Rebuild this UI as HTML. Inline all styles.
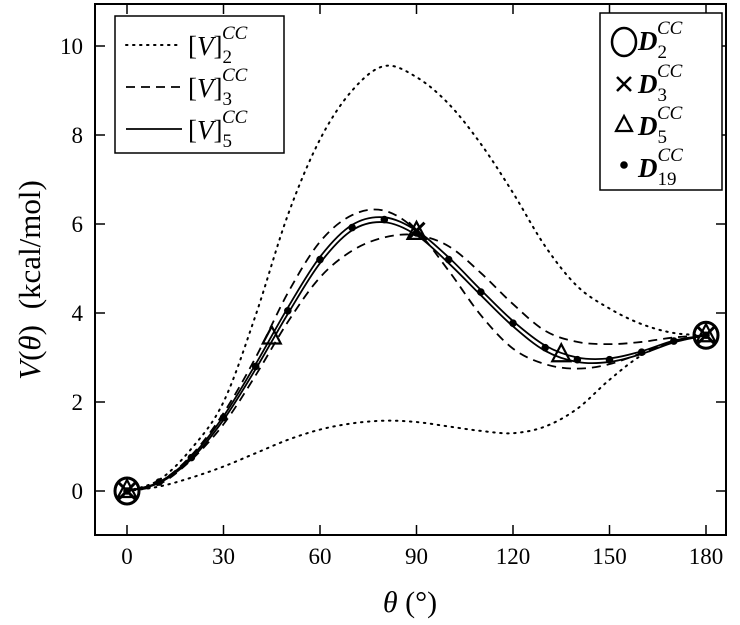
<!DOCTYPE html>
<html><head><meta charset="utf-8">
<style>
body{margin:0;background:#fff;}
svg text{font-family:"Liberation Serif",serif;fill:#000;}
</style></head>
<body>
<svg id="c" width="740" height="620" viewBox="0 0 740 620" xmlns="http://www.w3.org/2000/svg">
<g id="plot"></g>
</svg>
<script>
const angles = [0,10,20,30,40,50,60,70,80,90,100,110,120,130,140,150,160,170,180];
const v2Upper = [0,0.25,0.95,2.0,3.95,6.2,7.9,9.0,9.55,9.3,8.7,7.8,6.7,5.5,4.6,4.1,3.75,3.55,3.5];
const v2Lower = [0,0.1,0.3,0.55,0.85,1.15,1.38,1.52,1.58,1.55,1.45,1.35,1.3,1.45,1.85,2.5,3.05,3.35,3.5];
const v3Upper = [0,0.2,0.8,1.75,3.0,4.45,5.6,6.2,6.3,5.85,4.95,3.95,3.2,2.85,2.75,2.85,3.1,3.35,3.5];
const v3Lower = [0,0.15,0.7,1.5,2.6,3.8,4.8,5.4,5.7,5.75,5.5,4.9,4.2,3.6,3.35,3.3,3.35,3.45,3.5];
const v5Upper = [0,0.2,0.77,1.68,2.85,4.12,5.26,5.98,6.15,5.85,5.25,4.52,3.82,3.27,3.0,2.98,3.14,3.38,3.5];
const v5Lower = [0,0.18,0.72,1.6,2.74,3.98,5.12,5.86,6.04,5.75,5.12,4.4,3.7,3.15,2.9,2.9,3.08,3.34,3.5];
const d19Angles = [0,10,20,30,40,50,60,70,80,90,100,110,120,130,140,150,160,170,180];
const d19Values = [0,0.2,0.75,1.65,2.8,4.05,5.2,5.92,6.1,5.8,5.2,4.47,3.77,3.22,2.95,2.95,3.12,3.37,3.5];
const d5Angles = [0,45,90,135,180];
const d5Values = [0,3.45,5.8,3.05,3.5];
const d3Angles = [0,90,180];
const d3Values = [0,5.85,3.5];
const d2Angles = [0,180];
const d2Values = [0,3.5];
const xTicks = [0,30,60,90,120,150,180];
const yTicks = [0,2,4,6,8,10];

const NS="http://www.w3.org/2000/svg";
const g=document.getElementById('plot');
const X0=95,X1=726,Y0=4,Y1=535;
const xs=v=>127+(v-0)*(706-127)/180;
const ys=v=>491-v*44.5;
function el(t,a,p){const e=document.createElementNS(NS,t);for(const k in a)e.setAttribute(k,a[k]);(p||g).appendChild(e);return e;}
function curve(xsArr,vals){
  const P=xsArr.map((a,i)=>[xs(a),ys(vals[i])]);
  let d=`M${P[0][0]},${P[0][1]}`;
  for(let i=0;i<P.length-1;i++){
    const p0=P[i-1]||P[i],p1=P[i],p2=P[i+1],p3=P[i+2]||P[i+1];
    const c1=[p1[0]+(p2[0]-p0[0])/6,p1[1]+(p2[1]-p0[1])/6];
    const c2=[p2[0]-(p3[0]-p1[0])/6,p2[1]-(p3[1]-p1[1])/6];
    d+=` C${c1[0]},${c1[1]} ${c2[0]},${c2[1]} ${p2[0]},${p2[1]}`;
  }
  return d;
}
let f=el('rect',{x:X0,y:Y0,width:X1-X0,height:Y1-Y0,fill:'none',stroke:'#000','stroke-width':2});

xTicks.forEach(t=>{
  const x=xs(t);
  let a=el('line',{x1:x,x2:x,y1:Y1,y2:Y1-10,stroke:'#000','stroke-width':1.5});
  
  el('line',{x1:x,x2:x,y1:Y0,y2:Y0+10,stroke:'#000','stroke-width':1.5});
  let tx=el('text',{x:x,y:564,'text-anchor':'middle','font-size':23});tx.textContent=t;
  
});
yTicks.forEach(t=>{
  const y=ys(t);
  let a=el('line',{x1:X0,x2:X0+10,y1:y,y2:y,stroke:'#000','stroke-width':1.5});
  
  el('line',{x1:X1,x2:X1-10,y1:y,y2:y,stroke:'#000','stroke-width':1.5});
  let tx=el('text',{x:83,y:y+8,'text-anchor':'end','font-size':23});tx.textContent=t;
  
});
const series=[[v2Upper,'1.5 5.5','v2-upper'],[v2Lower,'1.5 5.5','v2-lower'],[v3Upper,'9 6','v3-upper'],[v3Lower,'9 6','v3-lower'],[v5Upper,'','v5-upper'],[v5Lower,'','v5-lower']];
series.forEach(s=>{
  const p=el('path',{d:curve(angles,s[0]),fill:'none',stroke:'#000','stroke-width':s[1]==='1.5 5.5'?2:1.8,'stroke-dasharray':s[1],'stroke-linecap':s[1]==='1.5 5.5'?'round':'butt'});
  
});
d19Angles.forEach((a,i)=>{
  const c=el('circle',{cx:xs(a),cy:ys(d19Values[i]),r:3.8,fill:'#000'});
  
});
d5Angles.forEach((a,i)=>{
  const x=xs(a),y=ys(d5Values[i]);
  const t=el('polygon',{points:`${x},${y-11} ${x-9},${y+6} ${x+9},${y+6}`,fill:'none',stroke:'#000','stroke-width':2.2});
  
});
d3Angles.forEach((a,i)=>{
  const x=xs(a),y=ys(d3Values[i]);
  const p=el('path',{d:`M${x-8},${y-8}L${x+8},${y+8}M${x-8},${y+8}L${x+8},${y-8}`,stroke:'#000','stroke-width':3});
  
});
d2Angles.forEach((a,i)=>{
  const c=el('ellipse',{cx:xs(a),cy:ys(d2Values[i]),rx:12,ry:13,fill:'none',stroke:'#000','stroke-width':3});
  
});
const lg=el('g',{});
el('rect',{x:115,y:16,width:169,height:137,fill:'#fff',stroke:'#000','stroke-width':1.5},lg);
[['1.5 5.5','2',42],['9 6','3',84],['','5',126]].forEach(r=>{
  el('line',{x1:126,x2:182,y1:r[2]+3,y2:r[2]+3,stroke:'#000','stroke-width':r[0]==='1.5 5.5'?2:1.8,'stroke-dasharray':r[0],'stroke-linecap':r[0]==='1.5 5.5'?'round':'butt'},lg);
  const t=el('text',{x:188,y:r[2]+13,'font-size':27},lg);
  t.innerHTML=`[<tspan font-style="italic">V</tspan>]<tspan font-size="19" dy="8">${r[1]}</tspan><tspan font-size="19" font-style="italic" dx="-10" dy="-24">CC</tspan>`;
  
});
const rg=el('g',{});
el('rect',{x:600,y:13,width:122,height:177,fill:'#fff',stroke:'#000','stroke-width':1.5},rg);
el('ellipse',{cx:624,cy:42,rx:12,ry:14,fill:'none',stroke:'#000','stroke-width':2.5},rg);
el('path',{d:'M617,77L631,91M617,91L631,77',stroke:'#000','stroke-width':2.5},rg);
el('polygon',{points:'624,116 616,131 632,131',fill:'none',stroke:'#000','stroke-width':2.2},rg);
el('circle',{cx:624,cy:165,r:3.8,fill:'#000'},rg);
[['2',50],['3',93],['5',135],['19',177]].forEach(r=>{
  const t=el('text',{x:638,y:r[1],'font-size':27,'font-weight':'bold','font-style':'italic'},rg);
  t.innerHTML=`D<tspan font-size="19" font-weight="normal" font-style="normal" dy="8">${r[0]}</tspan><tspan font-size="19" font-weight="normal" dx="${r[0].length>1?-19:-10}" dy="-24">CC</tspan>`;
  
});
let xt=el('text',{x:410,y:612,'text-anchor':'middle','font-size':30});
xt.innerHTML='<tspan font-style="italic">θ</tspan>  (°)';

let yt=el('text',{x:0,y:0,'text-anchor':'middle','font-size':31,'word-spacing':8,transform:'translate(40,280) rotate(-90)'});
yt.innerHTML='<tspan font-style="italic">V</tspan>(<tspan font-style="italic">θ</tspan>) (kcal/mol)';

</script>
</body></html>
